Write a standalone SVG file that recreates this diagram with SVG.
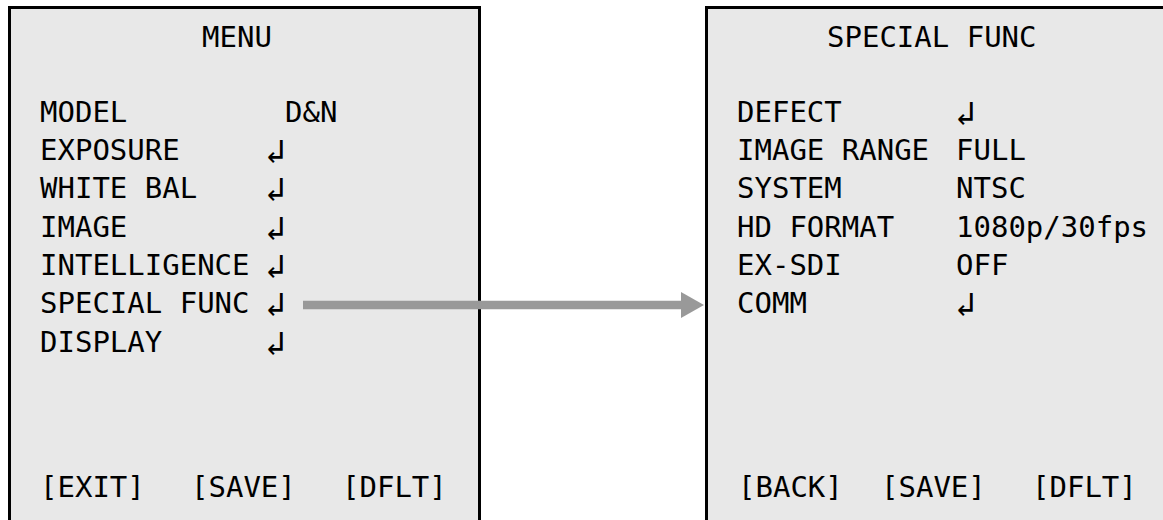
<svg xmlns="http://www.w3.org/2000/svg" width="1163" height="520" viewBox="0 0 1163 520">
<style>
.box{fill:#e8e8e8;stroke:#000;stroke-width:3}
.t{font-family:"DejaVu Sans Mono","Liberation Mono",monospace;font-size:29px;fill:#000}
.r{font-family:"DejaVu Sans Mono","DejaVu Sans",monospace;font-size:34px;fill:#000}
.conn{stroke:#999999;stroke-width:8.5;fill:none}
.head{fill:#999999}
</style>
<rect width="1163" height="520" fill="#ffffff"/>
<g id="menu">
<rect class="box" x="9.5" y="7.5" width="470" height="520"/>
<text class="t" x="202" y="47">MENU</text>
<text class="t" x="40" y="122">MODEL</text><text class="t" x="285" y="122">D&amp;N</text>
<text class="t" x="40" y="160">EXPOSURE</text><text class="r" x="265" y="163">↲</text>
<text class="t" x="40" y="198">WHITE BAL</text><text class="r" x="265" y="201">↲</text>
<text class="t" x="40" y="237">IMAGE</text><text class="r" x="265" y="240">↲</text>
<text class="t" x="40" y="275">INTELLIGENCE</text><text class="r" x="265" y="278">↲</text>
<text class="t" x="40" y="313">SPECIAL FUNC</text><text class="r" x="265" y="316">↲</text>
<text class="t" x="40" y="352">DISPLAY</text><text class="r" x="265" y="355">↲</text>
<text class="t" x="40" y="497">[EXIT]</text>
<text class="t" x="191" y="497">[SAVE]</text>
<text class="t" x="342" y="497">[DFLT]</text>
</g>
<g id="special-func">
<rect class="box" x="706.5" y="7.5" width="470" height="520"/>
<text class="t" x="827" y="47">SPECIAL FUNC</text>
<text class="t" x="737" y="122">DEFECT</text><text class="r" x="955" y="125">↲</text>
<text class="t" x="737" y="160">IMAGE RANGE</text><text class="t" x="956" y="160">FULL</text>
<text class="t" x="737" y="198">SYSTEM</text><text class="t" x="956" y="198">NTSC</text>
<text class="t" x="737" y="237">HD FORMAT</text><text class="t" x="956" y="237">1080p/30fps</text>
<text class="t" x="737" y="275">EX-SDI</text><text class="t" x="956" y="275">OFF</text>
<text class="t" x="737" y="313">COMM</text><text class="r" x="955" y="316">↲</text>
<text class="t" x="738" y="497">[BACK]</text>
<text class="t" x="881" y="497">[SAVE]</text>
<text class="t" x="1032" y="497">[DFLT]</text>
</g>
<g id="connectors">
<line class="conn" x1="303" y1="305" x2="683" y2="305"/>
<polygon class="head" points="681,292 704,305 681,318"/>
</g>
</svg>
